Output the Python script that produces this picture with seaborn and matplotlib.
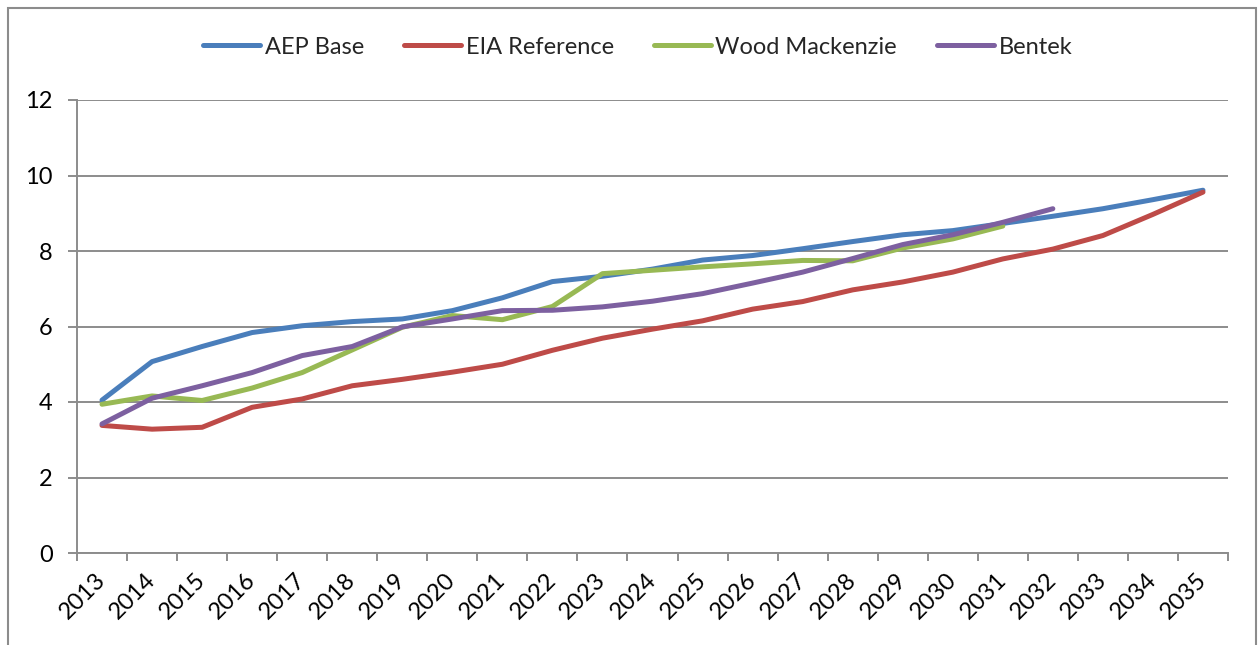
import matplotlib
matplotlib.use("Agg")
import matplotlib.pyplot as plt
import pandas as pd
import seaborn as sns
from matplotlib.patches import Rectangle
from matplotlib.ticker import FixedLocator

# Forecast years and the four price outlooks
years = list(range(2013, 2036))
series_names = ["AEP Base", "EIA Reference", "Wood Mackenzie", "Bentek"]
aep_base = [4.05, 5.07, 5.47, 5.84, 6.02, 6.13, 6.20, 6.42, 6.76, 7.19, 7.33, 7.52,
            7.76, 7.88, 8.06, 8.25, 8.43, 8.54, 8.73, 8.92, 9.12, 9.36, 9.61]
eia_reference = [3.38, 3.28, 3.33, 3.86, 4.08, 4.43, 4.60, 4.79, 5.00, 5.37, 5.69, 5.93,
                 6.15, 6.46, 6.66, 6.97, 7.18, 7.44, 7.79, 8.05, 8.41, 8.97, 9.56]
wood_mackenzie = [3.94, 4.16, 4.04, 4.37, 4.78, 5.38, 5.98, 6.29, 6.18, 6.53, 7.40, 7.49,
                  7.58, 7.66, 7.75, 7.74, 8.08, 8.32, 8.66]
bentek = [3.42, 4.10, 4.43, 4.78, 5.23, 5.47, 5.99, 6.20, 6.42, 6.43, 6.52, 6.67,
          6.87, 7.15, 7.44, 7.80, 8.17, 8.43, 8.76, 9.12]
y_ticks = [0, 2, 4, 6, 8, 10, 12]

colors = ["#4A7EBB", "#BE4B48", "#98B954", "#7D60A0"]

frames = []
for name, vals in zip(series_names, [aep_base, eia_reference, wood_mackenzie, bentek]):
    frames.append(pd.DataFrame({"year": years[:len(vals)], "value": vals, "series": name}))
long_df = pd.concat(frames, ignore_index=True)

sns.set_theme(style="white")
plt.rcParams["font.family"] = ["Lato", "DejaVu Sans"]

W, H = 1258, 645
fig = plt.figure(figsize=(W / 100, H / 100), dpi=100)
fig.patch.set_facecolor("white")
ax = fig.add_axes([77 / W, 1 - 553 / H, (1228 - 77) / W, (553 - 100) / H])

sns.lineplot(data=long_df, x="year", y="value", hue="series", hue_order=series_names,
             palette=colors, linewidth=3.6, estimator=None, sort=False, ax=ax,
             solid_capstyle="round", solid_joinstyle="round")

grid_color = "#8C8C8C"
ax.set_xlim(years[0] - 0.5, years[-1] + 0.5)
ax.set_ylim(y_ticks[0], y_ticks[-1])
ax.yaxis.set_major_locator(FixedLocator(y_ticks))
ax.xaxis.set_major_locator(FixedLocator(years))
ax.xaxis.set_minor_locator(FixedLocator([y - 0.5 for y in years] + [years[-1] + 0.5]))
ax.set_xticklabels([str(y) for y in years], rotation=45, ha="right",
                   rotation_mode="anchor", va="center")
ax.set_xlabel("")
ax.set_ylabel("")
ax.yaxis.grid(True, color=grid_color, linewidth=1.4)
ax.set_axisbelow(True)
for side in ["top", "right"]:
    ax.spines[side].set_visible(False)
for side in ["left", "bottom"]:
    ax.spines[side].set_color(grid_color)
    ax.spines[side].set_linewidth(1.4)

ax.tick_params(axis="y", which="major", direction="out", length=6.5, width=1.4,
               color=grid_color, labelsize=17, labelcolor="black", pad=11, left=True)
ax.tick_params(axis="x", which="major", length=0, labelsize=17, labelcolor="black", pad=17)
ax.tick_params(axis="x", which="minor", direction="out", length=6, width=1.4,
               color=grid_color, bottom=True)

handles, labels = ax.get_legend_handles_labels()
ax.get_legend().remove()
fig.legend(handles, labels, loc="center", bbox_to_anchor=(0.507, 1 - 47 / H), ncol=4,
           frameon=False, fontsize=17, handlelength=2.4, handletextpad=0.2,
           columnspacing=1.7)

# Outer chart border
fig.add_artist(Rectangle((8 / W, -0.05), (1256 - 8) / W, 1.05 - 7.5 / H,
                         transform=fig.transFigure, fill=False,
                         edgecolor="#8C8C8C", linewidth=1.5))

fig.savefig("out.png", dpi=100)
